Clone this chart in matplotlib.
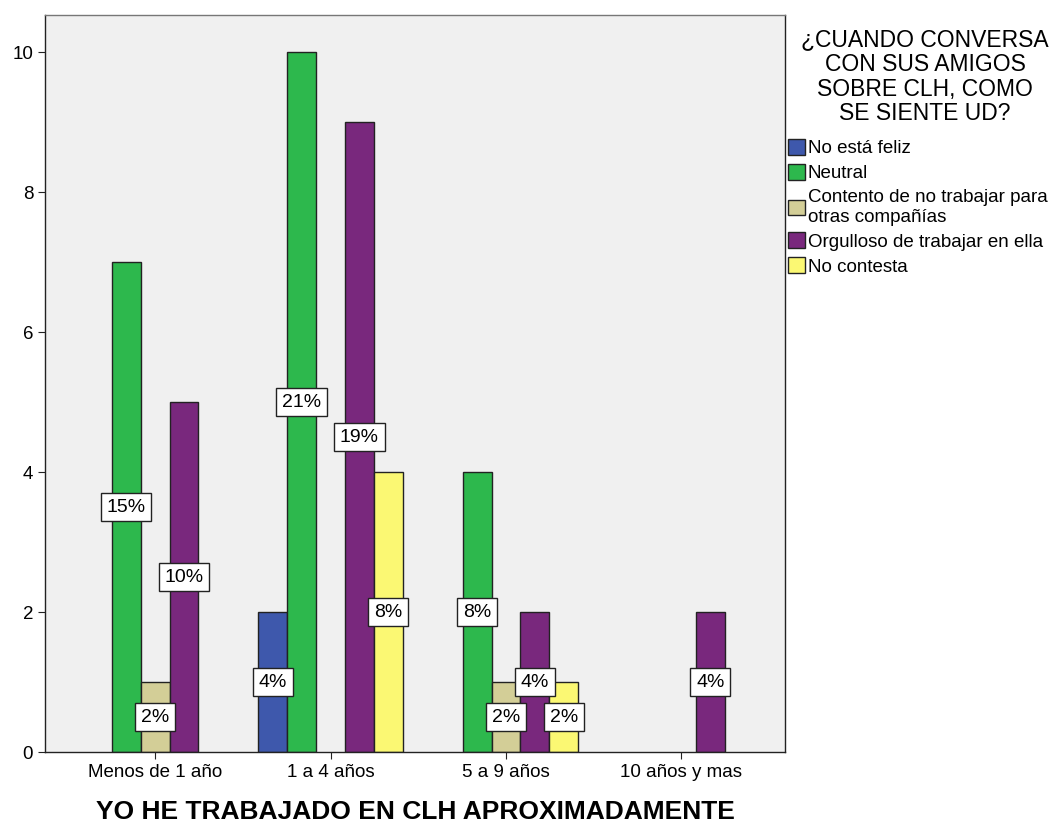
import numpy as np
import matplotlib.pyplot as plt
from matplotlib.patches import Patch

plt.rcParams['font.family'] = ['Liberation Sans', 'DejaVu Sans']

categories = ["Menos de 1 año", "1 a 4 años", "5 a 9 años", "10 años y mas"]
series = ["No está feliz", "Neutral", "Contento de no trabajar para\notras compañías",
          "Orgulloso de trabajar en ella", "No contesta"]
colors = ["#3e58ac", "#2db84d", "#d3ce97", "#79287d", "#fbf873"]

no_feliz = [0, 2, 0, 0]
neutral = [7, 10, 4, 0]
contento = [1, 0, 1, 0]
orgulloso = [5, 9, 2, 2]
no_contesta = [0, 4, 1, 0]
values = [no_feliz, neutral, contento, orgulloso, no_contesta]
total = sum(sum(v) for v in values)

fig = plt.figure(figsize=(10.63, 8.30), dpi=100)
ax = fig.add_axes([45/1063, 1-752/830, 740/1063, 737/830])
ax.set_facecolor("#f0f0f0")

x = np.arange(len(categories))
w = 0.165
for i, (name, vals, c) in enumerate(zip(series, values, colors)):
    xs = x + (i - 2) * w
    for xi, v in zip(xs, vals):
        if v == 0:
            continue
        ax.bar(xi, v, width=w, color=c, edgecolor="#222222", linewidth=1, zorder=2)
        pct = round(v / total * 100)
        ax.text(xi, v / 2, f"{pct}%", ha="center", va="center", fontsize=14, zorder=5,
                bbox=dict(boxstyle="square,pad=0.3", facecolor="white", edgecolor="#222222", linewidth=1))

ax.set_xlim(-0.627, 3.59)
ax.set_ylim(0, 10.53)
ax.set_yticks([0, 2, 4, 6, 8, 10])
ax.set_xticks(x)
ax.set_xticklabels(categories)
ax.tick_params(axis="both", labelsize=13.5, length=5, color="#222222", direction="out")
for s in ax.spines.values():
    s.set_color("#222222")
    s.set_linewidth(1)
ax.spines["top"].set_color("#777777")
ax.set_xlabel("YO HE TRABAJADO EN CLH APROXIMADAMENTE", fontsize=19, fontweight="bold", labelpad=14)

fig.text(925/1063, 1-28/830, "¿CUANDO CONVERSA\nCON SUS AMIGOS\nSOBRE CLH, COMO\nSE SIENTE UD?",
         ha="center", va="top", fontsize=16.5, linespacing=1.1)

handles = [Patch(facecolor=c, edgecolor="#222222", linewidth=1) for c in colors]
fig.legend(handles, series, loc="upper left", bbox_to_anchor=(788/1063, 1-139/830),
           frameon=False, fontsize=13.5, handlelength=0.9, handleheight=0.9,
           handletextpad=0.15, labelspacing=0.36, borderpad=0, borderaxespad=0)

fig.savefig("out.png", dpi=100)
